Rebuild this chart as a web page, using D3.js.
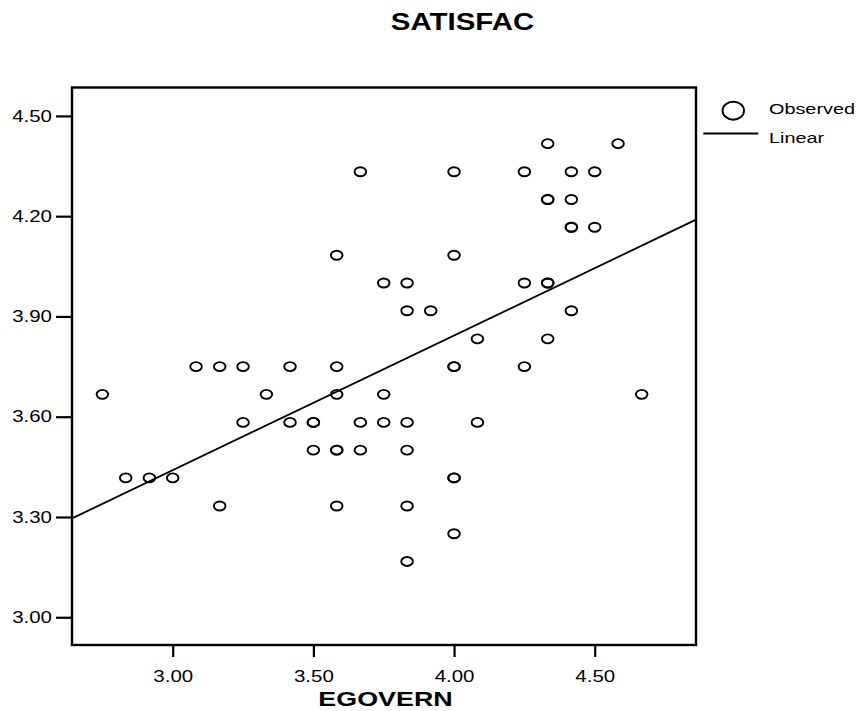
<html>
<head>
    <script src="https://d3js.org/d3.v7.min.js"></script>
    <style>
        body { margin: 0; background: white; }
        text { font-family: "Liberation Sans", Arial, sans-serif; fill: black; }
    </style>
</head>
<body>
    <svg id="chart" width="857" height="711"></svg>
    <script>
        // observed points (EGOVERN, SATISFAC)
        let egovern = [
            4.333, 4.583,
            3.667, 4.0, 4.25, 4.417, 4.5,
            4.333, 4.333, 4.417,
            4.417, 4.417, 4.5,
            3.583, 4.0,
            3.75, 3.833, 4.25, 4.333, 4.333,
            3.833, 3.917, 4.417,
            4.083, 4.333,
            3.083, 3.167, 3.25, 3.417, 3.583, 4.0, 4.0, 4.25,
            2.75, 3.333, 3.583, 3.75, 4.667,
            3.25, 3.417, 3.5, 3.5, 3.667, 3.75, 3.833, 4.083,
            3.5, 3.583, 3.583, 3.667, 3.833,
            2.833, 2.917, 3.0, 4.0, 4.0,
            3.167, 3.583, 3.833,
            4.0,
            3.833
        ];
        let satisfac = [
            4.417, 4.417,
            4.333, 4.333, 4.333, 4.333, 4.333,
            4.25, 4.25, 4.25,
            4.167, 4.167, 4.167,
            4.083, 4.083,
            4.0, 4.0, 4.0, 4.0, 4.0,
            3.917, 3.917, 3.917,
            3.833, 3.833,
            3.75, 3.75, 3.75, 3.75, 3.75, 3.75, 3.75, 3.75,
            3.667, 3.667, 3.667, 3.667, 3.667,
            3.583, 3.583, 3.583, 3.583, 3.583, 3.583, 3.583, 3.583,
            3.5, 3.5, 3.5, 3.5, 3.5,
            3.417, 3.417, 3.417, 3.417, 3.417,
            3.333, 3.333, 3.333,
            3.25,
            3.167
        ];
        // linear fit: intercept, slope
        let fitCoef = [2.231, 0.403];
        let xTicks = [3.0, 3.5, 4.0, 4.5];
        let yTicks = [3.0, 3.3, 3.6, 3.9, 4.2, 4.5];
        let legendLabels = ["Observed", "Linear"];

        let svg = d3.select("svg#chart");
        const plotLeft = 72, plotRight = 696, plotTop = 87.5, plotBottom = 645;
        const stretch = 1.28;   // text in the original is drawn wide

        let xScale = d3.scaleLinear()
            .domain([2.642, 4.86])
            .range([plotLeft, plotRight]);
        let yScale = d3.scaleLinear()
            .domain([2.917, 4.585])
            .range([plotBottom, plotTop]);

        function wideText(x, y, str, size, weight, anchor) {
            svg.append("text")
                .attr("transform", "translate(" + x + "," + y + ") scale(" + stretch + ",1)")
                .attr("text-anchor", anchor)
                .style("font-size", size + "px")
                .style("font-weight", weight)
                .text(str);
        }

        //axes
        let leftAxis = d3.axisLeft(yScale).tickValues(yTicks).tickSize(16).tickFormat(d3.format(".2f"));
        let gy = svg.append("g")
            .attr("transform", "translate(" + plotLeft + ",0)")
            .call(leftAxis);
        let bottomAxis = d3.axisBottom(xScale).tickValues(xTicks).tickSize(12).tickFormat(d3.format(".2f"));
        let gx = svg.append("g")
            .attr("transform", "translate(0," + plotBottom + ")")
            .call(bottomAxis);

        [gx, gy].forEach(g => {
            g.select(".domain").remove();
            g.selectAll(".tick line").attr("stroke", "black").attr("stroke-width", 2.2);
            g.selectAll(".tick text").style("font-size", "16px").attr("fill", "black");
        });
        gy.selectAll(".tick text")
            .attr("x", 0)
            .attr("transform", "translate(-20,0) scale(" + stretch + ",1)");
        gx.selectAll(".tick text")
            .attr("dy", "0")
            .attr("transform", "scale(" + stretch + ",1)")
            .attr("y", 37);

        //frame
        svg.append("rect")
            .attr("x", plotLeft)
            .attr("y", plotTop)
            .attr("width", plotRight - plotLeft)
            .attr("height", plotBottom - plotTop)
            .attr("fill", "none")
            .attr("stroke", "black")
            .attr("stroke-width", 2.4);

        //fit line across the whole x range
        let xd = xScale.domain();
        svg.append("line")
            .attr("x1", xScale(xd[0]))
            .attr("y1", yScale(fitCoef[0] + fitCoef[1] * xd[0]))
            .attr("x2", xScale(xd[1]))
            .attr("y2", yScale(fitCoef[0] + fitCoef[1] * xd[1]))
            .attr("stroke", "black")
            .attr("stroke-width", 1.8);

        //observed points
        egovern.forEach((d, i) => {
            svg.append("ellipse")
                .attr("cx", xScale(d))
                .attr("cy", yScale(satisfac[i]))
                .attr("rx", 5.8)
                .attr("ry", 4.5)
                .attr("fill", "none")
                .attr("stroke", "black")
                .attr("stroke-width", 1.9);
        });

        //titles
        wideText(462.5, 29.5, "SATISFAC", 23, "bold", "middle");
        wideText(385.5, 706, "EGOVERN", 21, "bold", "middle");

        //legend
        svg.append("ellipse")
            .attr("cx", 733.3)
            .attr("cy", 110.7)
            .attr("rx", 10.7)
            .attr("ry", 9)
            .attr("fill", "none")
            .attr("stroke", "black")
            .attr("stroke-width", 1.9);
        svg.append("line")
            .attr("x1", 703.3)
            .attr("x2", 758.3)
            .attr("y1", 133.5)
            .attr("y2", 133.5)
            .attr("stroke", "black")
            .attr("stroke-width", 1.8);
        wideText(769, 114, legendLabels[0], 15.5, "normal", "start");
        wideText(769, 143, legendLabels[1], 15.5, "normal", "start");
    </script>
</body>
</html>
